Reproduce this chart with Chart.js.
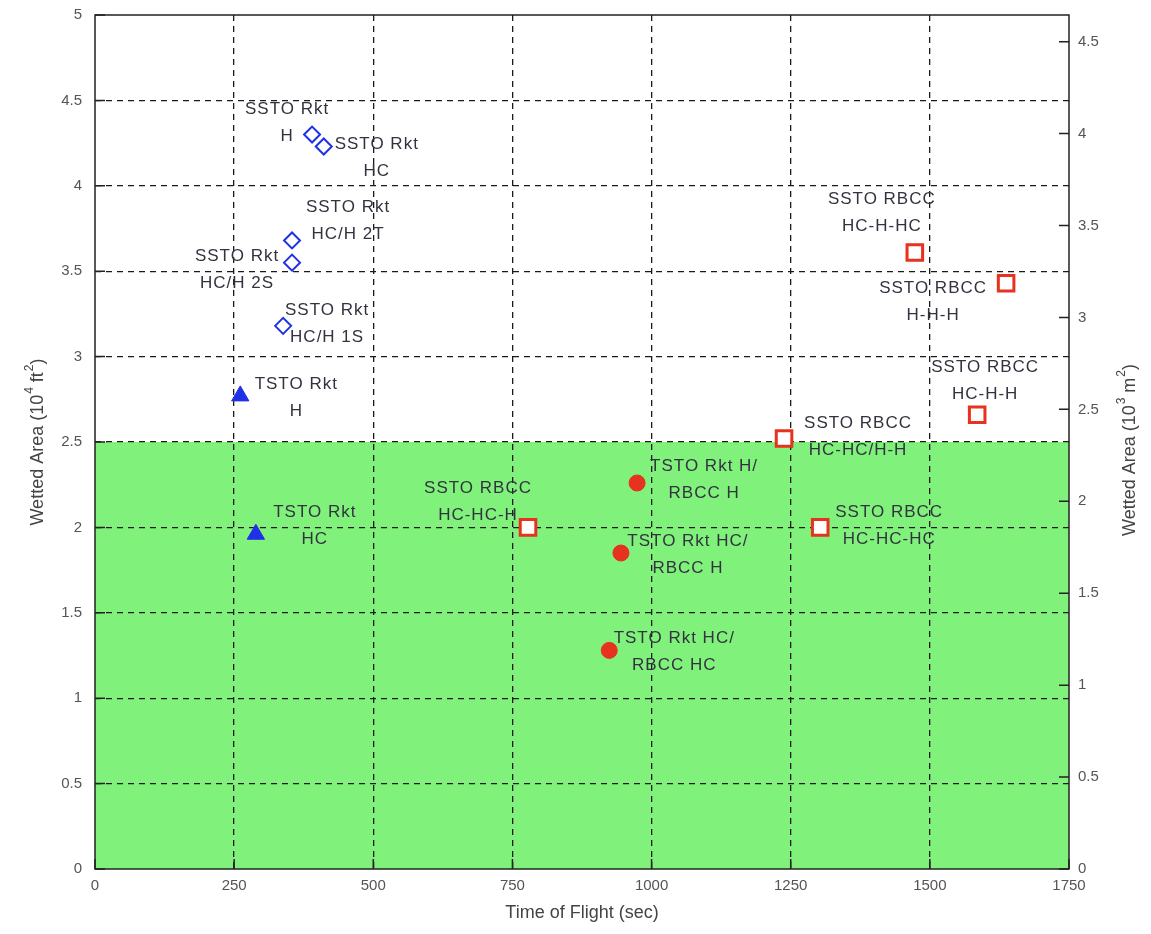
<!DOCTYPE html>
<html>
<head>
<meta charset="utf-8">
<script src="https://cdn.jsdelivr.net/npm/chart.js@4.4.1/dist/chart.umd.min.js"></script>
<style>
  html, body { margin: 0; padding: 0; background: #fff; }
  #wrap { width: 1151px; height: 934px; }
</style>
</head>
<body>
<div id="wrap"><canvas id="grafico" width="1151" height="934"></canvas></div>
<script>
// Dados (tempo de voo em s, área molhada em 10^4 ft^2)
const xTicks = [0, 250, 500, 750, 1000, 1250, 1500, 1750];
const yTicks = [0, 0.5, 1, 1.5, 2, 2.5, 3, 3.5, 4, 4.5, 5];
const m2PorFt2 = 0.0929;          // 10^4 ft^2 -> 10^3 m^2 (x10)
const limiteVerde = 2.5;

const ssRktX = [390, 411, 354, 354, 338];
const ssRktY = [4.30, 4.23, 3.68, 3.55, 3.18];
const ssRktNomes = ['SSTO Rkt\nH', 'SSTO Rkt\nHC', 'SSTO Rkt\nHC/H 2T', 'SSTO Rkt\nHC/H 2S', 'SSTO Rkt\nHC/H 1S'];

const tsRktX = [261, 289];
const tsRktY = [2.77, 1.96];
const tsRktNomes = ['TSTO Rkt\nH', 'TSTO Rkt\nHC'];

const tsRbccX = [974, 945, 924];
const tsRbccY = [2.26, 1.85, 1.28];
const tsRbccNomes = ['TSTO Rkt H/\nRBCC H', 'TSTO Rkt HC/\nRBCC H', 'TSTO Rkt HC/\nRBCC HC'];

const ssRbccX = [778, 1473, 1637, 1585, 1238, 1303];
const ssRbccY = [2.00, 3.61, 3.43, 2.66, 2.52, 2.00];
const ssRbccNomes = ['SSTO RBCC\nHC-HC-H', 'SSTO RBCC\nHC-H-HC', 'SSTO RBCC\nH-H-H', 'SSTO RBCC\nHC-H-H', 'SSTO RBCC\nHC-HC/H-H', 'SSTO RBCC\nHC-HC-HC'];

// títulos dos eixos: [texto, sobrescrito?]
const tituloX = 'Time of Flight (sec)';
const tituloY = [['Wetted Area (10', false], ['4', true], [' ft', false], ['2', true], [')', false]];
const tituloY2 = [['Wetted Area (10', false], ['3', true], [' m', false], ['2', true], [')', false]];

// deslocamento (px) de cada rótulo em relação ao seu marcador
const desloc = [
  [[-25, -25], [53, -2], [56, -33], [-55, -6], [44, -16]],
  [[56, -12], [59, -22]],
  [[67, -17], [67, -12], [65, -12]],
  [[-50, -39], [-33, -53], [-73, 5], [8, -47], [74, -15], [69, -15]],
];
const nomes = [ssRktNomes, tsRktNomes, tsRbccNomes, ssRbccNomes];

const pontos = (xs, ys) => xs.map((x, i) => ({ x, y: ys[i] }));

const AZUL = '#1f30e6';
const VERMELHO = '#e6321e';
const FONTE = '"Liberation Sans", Arial, sans-serif';

// escreve um título com sobrescritos, centrado em (0,0)
function tituloComExpoente(ctx, partes) {
  const fN = '18px ' + FONTE, fS = '12px ' + FONTE;
  const larg = partes.map(([t, s]) => { ctx.font = s ? fS : fN; return ctx.measureText(t).width + (s ? 1 : 0); });
  let x = -larg.reduce((a, b) => a + b, 0) / 2;
  ctx.textAlign = 'left';
  partes.forEach(([t, s], i) => {
    ctx.font = s ? fS : fN;
    ctx.fillText(t, x + (s ? 1 : 0), s ? -8 : 0);
    x += larg[i];
  });
}

// Fundo verde, moldura, marcas internas, rótulos e títulos dos eixos
const extras = {
  id: 'extras',
  beforeDraw(chart) {
    const { ctx, chartArea: a, scales } = chart;
    const yv = scales.y.getPixelForValue(limiteVerde);
    ctx.save();
    ctx.fillStyle = '#80f27c';
    ctx.fillRect(a.left, yv, a.right - a.left, a.bottom - yv);
    ctx.restore();
  },
  afterDatasetsDraw(chart) {
    const { ctx, chartArea: a, scales } = chart;
    ctx.save();
    // moldura
    ctx.strokeStyle = '#222';
    ctx.lineWidth = 1.5;
    ctx.strokeRect(a.left, a.top, a.right - a.left, a.bottom - a.top);
    // marcas internas
    ctx.beginPath();
    scales.y.ticks.forEach(t => {
      const p = scales.y.getPixelForValue(t.value);
      ctx.moveTo(a.left, p); ctx.lineTo(a.left + 10, p);
    });
    scales.y2.ticks.forEach(t => {
      const p = scales.y2.getPixelForValue(t.value);
      ctx.moveTo(a.right, p); ctx.lineTo(a.right - 10, p);
    });
    scales.x.ticks.forEach(t => {
      const p = scales.x.getPixelForValue(t.value);
      ctx.moveTo(p, a.bottom); ctx.lineTo(p, a.bottom - 10);
    });
    ctx.stroke();

    // rótulos dos pontos
    ctx.font = '17px ' + FONTE;
    ctx.letterSpacing = '1px';
    ctx.fillStyle = '#333340';
    ctx.textAlign = 'center';
    ctx.textBaseline = 'middle';
    chart.data.datasets.forEach((ds, di) => {
      const meta = chart.getDatasetMeta(di);
      meta.data.forEach((el, i) => {
        const [dx, dy] = desloc[di][i];
        nomes[di][i].split('\n').forEach((linha, k) => {
          ctx.fillText(linha, el.x + dx, el.y + dy + k * 27);
        });
      });
    });

    // títulos dos eixos
    ctx.letterSpacing = '0px';
    ctx.font = '18px ' + FONTE;
    ctx.fillStyle = '#444';
    ctx.fillText(tituloX, (a.left + a.right) / 2, 913);
    const cy = (a.top + a.bottom) / 2;
    ctx.save();
    ctx.translate(38, cy);
    ctx.rotate(-Math.PI / 2);
    tituloComExpoente(ctx, tituloY);
    ctx.restore();
    ctx.save();
    ctx.translate(1130, cy + 8);
    ctx.rotate(-Math.PI / 2);
    tituloComExpoente(ctx, tituloY2);
    ctx.restore();
    ctx.restore();
  },
};

const grade = (min, max) => ({
  drawTicks: false,
  lineWidth: 1.3,
  color: (c) => (c.tick && (c.tick.value === min || c.tick.value === max)) ? 'rgba(0,0,0,0)' : '#1a1a1a',
});
const tickFonte = { family: FONTE, size: 15 };
const rotulo = (v) => String(v);
const semPadV = (s) => { s.paddingTop = 0; s.paddingBottom = 0; };

new Chart(document.getElementById('grafico'), {
  type: 'scatter',
  data: {
    datasets: [
      {
        data: pontos(ssRktX, ssRktY), pointStyle: 'rectRot', pointRadius: 8,
        borderColor: AZUL, backgroundColor: 'rgba(0,0,0,0)', borderWidth: 2,
      },
      {
        data: pontos(tsRktX, tsRktY), pointStyle: 'triangle', pointRadius: 10,
        borderColor: AZUL, backgroundColor: AZUL, borderWidth: 1,
      },
      {
        data: pontos(tsRbccX, tsRbccY), pointStyle: 'circle', pointRadius: 8,
        borderColor: VERMELHO, backgroundColor: VERMELHO, borderWidth: 1,
      },
      {
        data: pontos(ssRbccX, ssRbccY), pointStyle: 'rect', pointRadius: 11,
        borderColor: VERMELHO, backgroundColor: '#fff', borderWidth: 3,
      },
    ],
  },
  options: {
    responsive: false,
    animation: false,
    layout: { padding: { top: 15, left: 0, right: 0, bottom: 0 } },
    plugins: { legend: { display: false }, tooltip: { enabled: false } },
    scales: {
      x: {
        type: 'linear', min: xTicks[0], max: xTicks[xTicks.length - 1],
        afterBuildTicks: (s) => { s.ticks = xTicks.map(v => ({ value: v })); },
        afterFit: (s) => { s.height = 65; s.paddingLeft = 0; s.paddingRight = 0; },
        grid: grade(xTicks[0], xTicks[xTicks.length - 1]),
        border: { display: false, dash: [6, 5] },
        ticks: { padding: 8, color: '#555', font: tickFonte, maxRotation: 0, callback: rotulo },
      },
      y: {
        type: 'linear', position: 'left', min: yTicks[0], max: yTicks[yTicks.length - 1],
        afterBuildTicks: (s) => { s.ticks = yTicks.map(v => ({ value: v })); },
        afterFit: (s) => { s.width = 95; semPadV(s); },
        grid: grade(yTicks[0], yTicks[yTicks.length - 1]),
        border: { display: false, dash: [6, 5] },
        ticks: { padding: 13, color: '#555', font: tickFonte, callback: rotulo },
      },
      y2: {
        type: 'linear', position: 'right', min: 0, max: yTicks[yTicks.length - 1] * m2PorFt2 * 10,
        afterBuildTicks: (s) => { s.ticks = yTicks.slice(0, 10).map(v => ({ value: v })); },
        afterFit: (s) => { s.width = 82; semPadV(s); },
        grid: { drawOnChartArea: false, drawTicks: false },
        border: { display: false },
        ticks: { padding: 9, color: '#555', font: tickFonte, callback: rotulo },
      },
    },
  },
  plugins: [extras],
});
</script>
</body>
</html>
